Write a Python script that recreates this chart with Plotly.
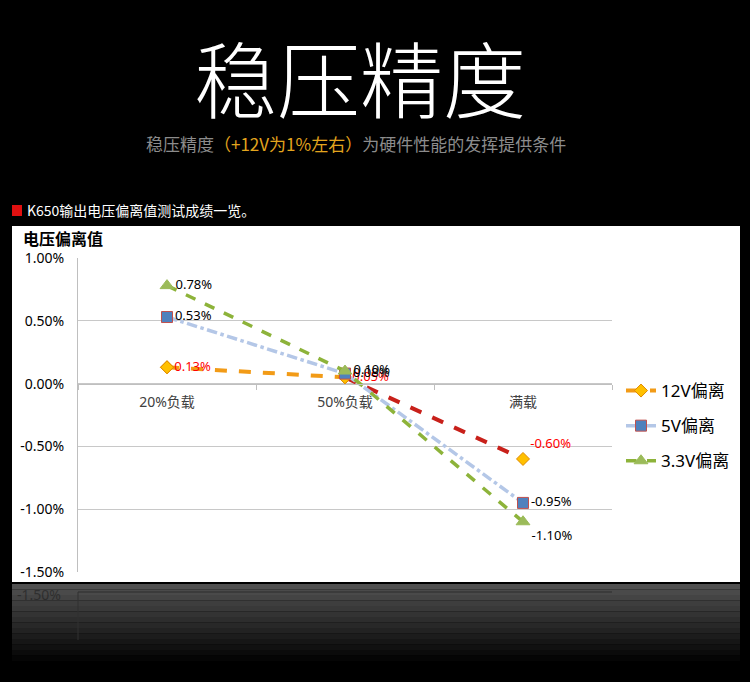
import plotly.graph_objects as go

# 数据（单位：%）
categories = ["20%负载", "50%负载", "满载"]
v12 = [0.13, 0.05, -0.60]
v5 = [0.53, 0.08, -0.95]
v33 = [0.78, 0.10, -1.10]
y_ticks = [1.0, 0.5, 0.0, -0.5, -1.0, -1.5]

W, H = 750, 682
FONT = "Noto Sans, Noto Sans CJK SC"
CJK = "Noto Sans CJK SC"


def px(x):
    return x / W


def py(y):
    return 1 - y / H


def lbl(vals):
    return [f"{v:.2f}%" for v in vals]


# 绘图区像素位置
x0, x1 = 78, 612
y_top, y_bot = 258, 572
ymin, ymax = -1.5, 1.0
zero_pos = py(y_bot) + (0 - ymin) / (ymax - ymin) * (py(y_top) - py(y_bot))

fig = go.Figure()

# 12V：渐变色虚线用两段近似
fig.add_trace(go.Scatter(
    x=categories[:2], y=v12[:2], mode="lines+markers", name="12V偏离",
    legendgroup="a",
    line=dict(color="#F29B17", width=4, dash="dash"),
    marker=dict(symbol="diamond", size=10, color="#FFC000",
                line=dict(color="#E08A00", width=1)),
))
fig.add_trace(go.Scatter(
    x=categories[1:], y=v12[1:], mode="lines", showlegend=False,
    legendgroup="a", hoverinfo="skip",
    line=dict(color="#C8201A", width=4, dash="dash"),
))
fig.add_trace(go.Scatter(
    x=categories, y=v12, mode="markers+text", showlegend=False,
    legendgroup="a",
    marker=dict(symbol="diamond", size=10, color="#FFC000",
                line=dict(color="#E08A00", width=1)),
    text=lbl(v12), textposition=["middle right", "middle right", "top right"],
    textfont=dict(color="#FF0000", size=13, family=FONT),
))

fig.add_trace(go.Scatter(
    x=categories, y=v5, mode="lines+markers+text", name="5V偏离",
    legendgroup="b",
    line=dict(color="#B4C7E7", width=3.5, dash="dashdot"),
    marker=dict(symbol="square", size=11, color="#4F81BD",
                line=dict(color="#C0504D", width=1)),
    text=lbl(v5), textposition="middle right",
    textfont=dict(color="#000000", size=13, family=FONT),
))

fig.add_trace(go.Scatter(
    x=categories, y=v33, mode="lines+markers+text", name="3.3V偏离",
    legendgroup="c",
    line=dict(color="#8DB33A", width=3.5, dash="dash"),
    marker=dict(symbol="triangle-up", size=12, color="#9BBB59",
                line=dict(color="#9BBB59", width=1)),
    text=lbl(v33), textposition=["middle right", "middle right", "bottom right"],
    textfont=dict(color="#000000", size=13, family=FONT),
))

shapes = [
    # 白色图表面板
    dict(type="rect", xref="paper", yref="paper", layer="below",
         x0=px(12), x1=px(740), y0=py(582), y1=py(226),
         fillcolor="white", line=dict(width=0)),
    # 红色小方块
    dict(type="rect", xref="paper", yref="paper",
         x0=px(12), x1=px(22), y0=py(216), y1=py(205),
         fillcolor="#E01010", line=dict(width=0)),
]
# 倒影渐变
steps = 14
for i in range(steps):
    g = int(80 * (1 - i / steps))
    shapes.append(dict(
        type="rect", xref="paper", yref="paper", layer="below",
        x0=px(12), x1=px(740),
        y0=py(584 + (i + 1) * 5.5), y1=py(584 + i * 5.5),
        fillcolor=f"rgb({g},{g},{g})", line=dict(width=0)))
shapes.append(dict(type="line", xref="paper", yref="paper",
                   x0=px(x0), x1=px(x1), y0=py(592), y1=py(592),
                   line=dict(color="#2c2c2c", width=1)))
shapes.append(dict(type="line", xref="paper", yref="paper",
                   x0=px(x0), x1=px(x0), y0=py(592), y1=py(640),
                   line=dict(color="#303030", width=1)))

annotations = [
    dict(text="稳压精度", x=px(360), y=py(76), xref="paper", yref="paper",
         xanchor="center", yanchor="middle", showarrow=False,
         font=dict(family=CJK, size=83, color="white", weight=300)),
    dict(text="稳压精度<span style='color:#E3A51E'>（+12V为1%左右）</span>为硬件性能的发挥提供条件",
         x=px(356), y=py(143), xref="paper", yref="paper",
         xanchor="center", yanchor="middle", showarrow=False,
         font=dict(family=CJK, size=17, color="#8C8C8C")),
    dict(text="K650输出电压偏离值测试成绩一览。", x=px(25), y=py(210),
         xref="paper", yref="paper", xanchor="left", yanchor="middle",
         showarrow=False, font=dict(family=CJK, size=14, color="white")),
    dict(text="<b>电压偏离值</b>", x=px(21), y=py(238), xref="paper",
         yref="paper", xanchor="left", yanchor="middle", showarrow=False,
         font=dict(family=CJK, size=16, color="#000000")),
    dict(text="-1.50%", x=px(63), y=py(594), xref="paper", yref="paper",
         xanchor="right", yanchor="middle", showarrow=False, opacity=0.35,
         font=dict(family=FONT, size=14, color="#000000")),
]

fig.update_layout(
    width=W, height=H, autosize=False,
    margin=dict(l=0, r=0, t=0, b=0, autoexpand=False),
    paper_bgcolor="black", plot_bgcolor="white",
    font=dict(family=FONT, color="#404040"),
    shapes=shapes, annotations=annotations,
    showlegend=True,
    legend=dict(x=px(621), y=py(373), xanchor="left", yanchor="top",
                font=dict(family=FONT, size=17, color="#000000"),
                bgcolor="rgba(0,0,0,0)", tracegroupgap=10,
                traceorder="grouped", itemwidth=30),
    xaxis=dict(domain=[px(x0), px(x1)], type="category",
               categoryorder="array", categoryarray=categories,
               range=[-0.5, 2.5], anchor="free", position=zero_pos,
               showgrid=False, showline=True, linecolor="#BFBFBF",
               linewidth=1, ticks="outside", tickson="boundaries",
               ticklen=5, tickcolor="#BFBFBF", automargin=False,
               tickfont=dict(family=FONT, size=14, color="#404040"),
               ticklabelstandoff=6, zeroline=False, fixedrange=True),
    yaxis=dict(domain=[py(y_bot), py(y_top)], range=[ymin, ymax],
               tickvals=y_ticks, ticktext=[f"{v:.2f}%" for v in y_ticks],
               showgrid=True, gridcolor="#C8C8C8", gridwidth=1,
               showline=True, linecolor="#BFBFBF", zeroline=False,
               ticks="", ticklabelstandoff=10, automargin=False,
               tickfont=dict(family=FONT, size=14, color="#000000"),
               fixedrange=True),
)

fig.write_html("out.html", config=dict(displayModeBar=False),
               post_script="document.documentElement.style.margin='0';"
                           "document.body.style.margin='0';"
                           "document.body.style.background='black';")
